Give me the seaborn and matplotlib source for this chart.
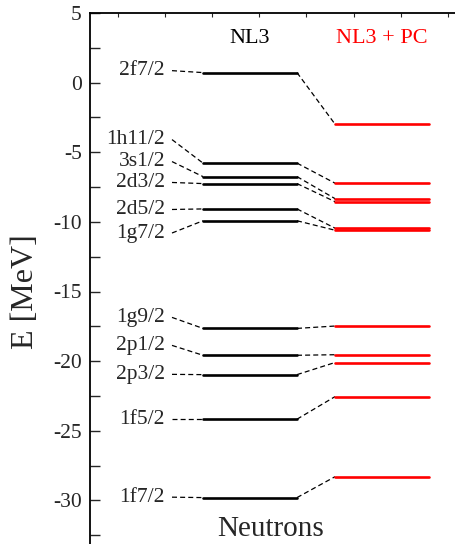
import numpy as np
import pandas as pd
import matplotlib
matplotlib.use("Agg")
import matplotlib.pyplot as plt
import seaborn as sns

# Neutron single-particle levels (MeV)
states = ["2f7/2", "1h11/2", "3s1/2", "2d3/2", "2d5/2", "1g7/2",
          "1g9/2", "2p1/2", "2p3/2", "1f5/2", "1f7/2"]
e_nl3 = [0.72, -5.78, -6.75, -7.25, -9.07, -9.92,
         -17.65, -19.58, -20.97, -24.17, -29.80]
e_nl3_pc = [-2.98, -7.22, -8.33, -8.55, -10.45, -10.60,
            -17.48, -19.54, -20.10, -22.55, -28.30]
# vertical placement of the state labels (spread out where levels crowd)
label_y = [0.86, -4.09, -5.67, -7.17, -9.11, -10.80,
           -16.86, -18.87, -20.95, -24.17, -29.77]
models = ["NL3", "NL3 + PC"]
colors = {"NL3": "black", "NL3 + PC": "red"}

# horizontal layout of the diagram (axis units)
X_LABEL_END = 82
COLS = {"NL3": (113, 207), "NL3 + PC": (245, 339)}

sns.set_theme(style="ticks")
plt.rcParams["font.family"] = ["Liberation Serif", "DejaVu Serif"]
plt.rcParams["axes.unicode_minus"] = False

rows = []
for s, a, b in zip(states, e_nl3, e_nl3_pc):
    for m, e in zip(models, (a, b)):
        x0, x1 = COLS[m]
        rows.append({"state": s, "model": m, "x": x0, "E": e})
        rows.append({"state": s, "model": m, "x": x1, "E": e})
levels = pd.DataFrame(rows)

links = []
for i, (s, ly, a, b) in enumerate(zip(states, label_y, e_nl3, e_nl3_pc)):
    links += [{"id": f"l{i}", "x": X_LABEL_END, "E": ly},
              {"id": f"l{i}", "x": COLS["NL3"][0], "E": a}]
    links += [{"id": f"r{i}", "x": COLS["NL3"][1], "E": a},
              {"id": f"r{i}", "x": COLS["NL3 + PC"][0], "E": b}]
links = pd.DataFrame(links)

fig = plt.figure(figsize=(4.55, 5.44), dpi=100)
ax = fig.add_axes([90 / 455, -26 / 544, 380 / 455, 557 / 544])

sns.lineplot(data=links, x="x", y="E", units="id", estimator=None,
             color="black", lw=0.9, linestyle=(0, (4, 2.5)), ax=ax,
             legend=False, sort=False)
sns.lineplot(data=levels, x="x", y="E", units="state", hue="model",
             palette=colors, estimator=None, lw=1.9, ax=ax, legend=False,
             sort=False)

for s, ly in zip(states, label_y):
    ax.text(X_LABEL_END - 7, ly, s, ha="right", va="center", fontsize=15.5)

ax.text(np.mean(COLS["NL3"]), 3.2, "NL3", ha="center", va="center",
        fontsize=16, color="black")
ax.text(np.mean(COLS["NL3 + PC"]), 3.2, "NL3 + PC", ha="center",
        va="center", fontsize=16, color="red")
ax.text(181, -32.55, "Neutrons", ha="center", va="baseline", fontsize=21)

ax.set_xlim(0, 380)
ax.set_ylim(-35, 5)
ax.set_yticks(np.arange(-35, 5.1, 5))
ax.set_yticks(np.arange(-32.5, 5, 5), minor=True)
ax.set_yticklabels([f"{int(v)}" if v != -35 else "" for v in np.arange(-35, 5.1, 5)])
ax.set_xticks(np.arange(28, 380, 47.1))
ax.tick_params(axis="x", bottom=False, top=True, labelbottom=False,
               direction="in", length=3, width=0.8)
ax.tick_params(axis="y", which="both", direction="in", length=7, width=1.0,
               labelsize=15.5, pad=6, right=False)
ax.set_xlabel("")
ax.set_ylabel("E [MeV]", fontsize=23)
ax.yaxis.set_label_coords(-50 / 380, 0.5)
for sp in ax.spines.values():
    sp.set_linewidth(1.3)
    sp.set_color("black")

fig.savefig("out.png", dpi=100)
